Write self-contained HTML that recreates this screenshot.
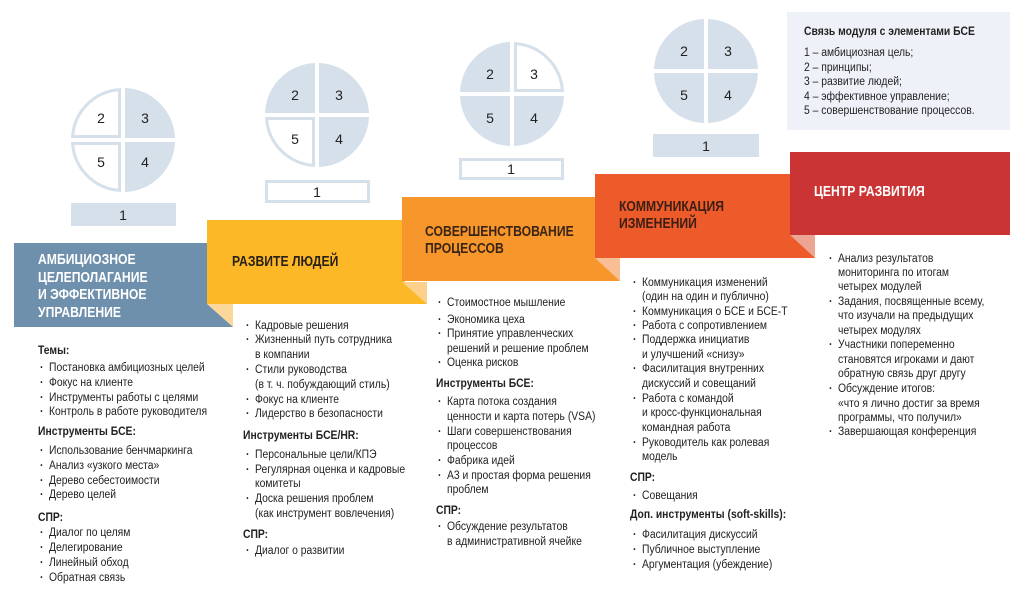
<!DOCTYPE html>
<html><head><meta charset="utf-8"><style>
html,body{margin:0;padding:0;background:#fff;}
#c{position:relative;width:1025px;height:603px;overflow:hidden;font-family:"Liberation Sans Narrow","Liberation Sans",sans-serif;color:#222;}
svg{position:absolute;left:0;top:0;}
.t{position:absolute;font-size:11.5px;line-height:14px;white-space:nowrap;transform:scaleX(0.9);transform-origin:0 0;}
.h{font-weight:bold;}
.b::before{content:"·";position:absolute;margin-left:-10px;font-weight:bold;}
.bn{position:absolute;font-weight:bold;font-size:14.5px;line-height:17px;white-space:nowrap;transform:scaleX(0.84);transform-origin:0 0;}
</style></head><body><div id="c">
<svg width="1025" height="603" viewBox="0 0 1025 603">
<rect x="787" y="12" width="223" height="118" fill="#eef2f8"/>
<g fill="#d6e0ea" stroke="#d6e0ea" stroke-width="3">
<g transform="translate(123,140)">
<path d="M-3.5,-3.5V-50.4A50.5,50.5 0 0 0 -50.4,-3.5Z" fill="#fff"/>
<path d="M2,-2H52A52,52 0 0 0 2,-52Z" stroke="none"/>
<path d="M2,2V52A52,52 0 0 0 52,2Z" stroke="none"/>
<path d="M-3.5,3.5H-50.4A50.5,50.5 0 0 0 -3.5,50.4Z" fill="#fff"/>
</g>
<g transform="translate(317,115)">
<path d="M-2,-2V-52A52,52 0 0 0 -52,-2Z" stroke="none"/>
<path d="M2,-2H52A52,52 0 0 0 2,-52Z" stroke="none"/>
<path d="M2,2V52A52,52 0 0 0 52,2Z" stroke="none"/>
<path d="M-3.5,3.5H-50.4A50.5,50.5 0 0 0 -3.5,50.4Z" fill="#fff"/>
</g>
<g transform="translate(512,94)">
<path d="M-2,-2V-52A52,52 0 0 0 -52,-2Z" stroke="none"/>
<path d="M3.5,-3.5H50.4A50.5,50.5 0 0 0 3.5,-50.4Z" fill="#fff"/>
<path d="M2,2V52A52,52 0 0 0 52,2Z" stroke="none"/>
<path d="M-2,2H-52A52,52 0 0 0 -2,52Z" stroke="none"/>
</g>
<g transform="translate(706,71)">
<path d="M-2,-2V-52A52,52 0 0 0 -52,-2Z" stroke="none"/>
<path d="M2,-2H52A52,52 0 0 0 2,-52Z" stroke="none"/>
<path d="M2,2V52A52,52 0 0 0 52,2Z" stroke="none"/>
<path d="M-2,2H-52A52,52 0 0 0 -2,52Z" stroke="none"/>
</g>
<rect x="71" y="203" width="105" height="23" stroke="none"/>
<rect x="266.5" y="181.5" width="102" height="20" fill="#fff"/>
<rect x="460.5" y="159.5" width="102" height="19" fill="#fff"/>
<rect x="653" y="134" width="106" height="23" stroke="none"/>
</g>
<g font-family="Liberation Sans, sans-serif" font-size="14" fill="#222" text-anchor="middle">
<text x="101" y="123">2</text><text x="145" y="123">3</text><text x="101" y="167">5</text><text x="145" y="167">4</text>
<text x="295" y="100">2</text><text x="339" y="100">3</text><text x="295" y="144">5</text><text x="339" y="144">4</text>
<text x="490" y="79">2</text><text x="534" y="79">3</text><text x="490" y="123">5</text><text x="534" y="123">4</text>
<text x="684" y="56">2</text><text x="728" y="56">3</text><text x="684" y="100">5</text><text x="728" y="100">4</text>
<text x="123" y="220">1</text><text x="317" y="197">1</text><text x="511" y="174">1</text><text x="706" y="151">1</text>
</g>
<path d="M14,243H210V304L233,327H14Z" fill="#6f90ad"/>
<path d="M207,220H405V282L427,304H207Z" fill="#fcb827"/>
<path d="M207,304H233V327Z" fill="#fbd79a"/>
<path d="M402,197H598V258L620,281H402Z" fill="#f7962a"/>
<path d="M402,282H427V304Z" fill="#fcd08a"/>
<path d="M595,174H792V235L815,258H595Z" fill="#ee5b2b"/>
<path d="M595,258H620V281Z" fill="#f8bf95"/>
<rect x="790" y="152" width="220" height="83" fill="#cb3434"/>
<path d="M790,235H815V258Z" fill="#eba592"/>
</svg>

<div class="bn" style="left:38px;top:252px;color:#fff;line-height:17.5px">АМБИЦИОЗНОЕ<br>ЦЕЛЕПОЛАГАНИЕ<br>И ЭФФЕКТИВНОЕ<br>УПРАВЛЕНИЕ</div>
<div class="bn" style="left:232px;top:254px;color:#2b2217">РАЗВИТЕ ЛЮДЕЙ</div>
<div class="bn" style="left:425px;top:224px;color:#3a2414">СОВЕРШЕНСТВОВАНИЕ<br>ПРОЦЕССОВ</div>
<div class="bn" style="left:619px;top:199px;color:#3b1f14">КОММУНИКАЦИЯ<br>ИЗМЕНЕНИЙ</div>
<div class="bn" style="left:814px;top:184px;color:#fff">ЦЕНТР РАЗВИТИЯ</div>

<div class="t h" style="left:804px;top:25px">Связь модуля с элементами БСЕ</div>
<div class="t" style="left:804px;top:46px;line-height:14.6px">1 – амбициозная цель;<br>2 – принципы;<br>3 – развитие людей;<br>4 – эффективное управление;<br>5 – совершенствование процессов.</div>

<!-- col1 -->
<div class="t h" style="left:38px;top:344px">Темы:</div>
<div class="t b" style="left:49px;top:361px">Постановка амбициозных целей</div>
<div class="t b" style="left:49px;top:376px">Фокус на клиенте</div>
<div class="t b" style="left:49px;top:391px">Инструменты работы с целями</div>
<div class="t b" style="left:49px;top:405px">Контроль в работе руководителя</div>
<div class="t h" style="left:38px;top:425px">Инструменты БСЕ:</div>
<div class="t b" style="left:49px;top:444px">Использование бенчмаркинга</div>
<div class="t b" style="left:49px;top:459px">Анализ «узкого места»</div>
<div class="t b" style="left:49px;top:474px">Дерево себестоимости</div>
<div class="t b" style="left:49px;top:488px">Дерево целей</div>
<div class="t h" style="left:38px;top:511px">СПР:</div>
<div class="t b" style="left:49px;top:526px">Диалог по целям</div>
<div class="t b" style="left:49px;top:541px">Делегирование</div>
<div class="t b" style="left:49px;top:556px">Линейный обход</div>
<div class="t b" style="left:49px;top:571px">Обратная связь</div>

<!-- col2 -->
<div class="t b" style="left:255px;top:319px">Кадровые решения</div>
<div class="t b" style="left:255px;top:333px">Жизненный путь сотрудника</div>
<div class="t" style="left:255px;top:348px">в компании</div>
<div class="t b" style="left:255px;top:363px">Стили руководства</div>
<div class="t" style="left:255px;top:378px">(в т. ч. побуждающий стиль)</div>
<div class="t b" style="left:255px;top:393px">Фокус на клиенте</div>
<div class="t b" style="left:255px;top:407px">Лидерство в безопасности</div>
<div class="t h" style="left:243px;top:429px">Инструменты БСЕ/HR:</div>
<div class="t b" style="left:255px;top:448px">Персональные цели/КПЭ</div>
<div class="t b" style="left:255px;top:463px">Регулярная оценка и кадровые</div>
<div class="t" style="left:255px;top:477px">комитеты</div>
<div class="t b" style="left:255px;top:492px">Доска решения проблем</div>
<div class="t" style="left:255px;top:507px">(как инструмент вовлечения)</div>
<div class="t h" style="left:243px;top:528px">СПР:</div>
<div class="t b" style="left:255px;top:544px">Диалог о развитии</div>

<!-- col3 -->
<div class="t b" style="left:447px;top:296px">Стоимостное мышление</div>
<div class="t b" style="left:447px;top:313px">Экономика цеха</div>
<div class="t b" style="left:447px;top:327px">Принятие управленческих</div>
<div class="t" style="left:447px;top:342px">решений и решение проблем</div>
<div class="t b" style="left:447px;top:356px">Оценка рисков</div>
<div class="t h" style="left:436px;top:377px">Инструменты БСЕ:</div>
<div class="t b" style="left:447px;top:395px">Карта потока создания</div>
<div class="t" style="left:447px;top:410px">ценности и карта потерь (VSA)</div>
<div class="t b" style="left:447px;top:425px">Шаги совершенствования</div>
<div class="t" style="left:447px;top:439px">процессов</div>
<div class="t b" style="left:447px;top:454px">Фабрика идей</div>
<div class="t b" style="left:447px;top:469px">А3 и простая форма решения</div>
<div class="t" style="left:447px;top:483px">проблем</div>
<div class="t h" style="left:436px;top:504px">СПР:</div>
<div class="t b" style="left:447px;top:520px">Обсуждение результатов</div>
<div class="t" style="left:447px;top:535px">в административной ячейке</div>

<!-- col4 -->
<div class="t b" style="left:642px;top:276px">Коммуникация изменений</div>
<div class="t" style="left:642px;top:290px">(один на один и публично)</div>
<div class="t b" style="left:642px;top:305px">Коммуникация о БСЕ и БСЕ-Т</div>
<div class="t b" style="left:642px;top:319px">Работа с сопротивлением</div>
<div class="t b" style="left:642px;top:333px">Поддержка инициатив</div>
<div class="t" style="left:642px;top:348px">и улучшений «снизу»</div>
<div class="t b" style="left:642px;top:362px">Фасилитация внутренних</div>
<div class="t" style="left:642px;top:377px">дискуссий и совещаний</div>
<div class="t b" style="left:642px;top:392px">Работа с командой</div>
<div class="t" style="left:642px;top:406px">и кросс-функциональная</div>
<div class="t" style="left:642px;top:421px">командная работа</div>
<div class="t b" style="left:642px;top:436px">Руководитель как ролевая</div>
<div class="t" style="left:642px;top:450px">модель</div>
<div class="t h" style="left:630px;top:471px">СПР:</div>
<div class="t b" style="left:642px;top:489px">Совещания</div>
<div class="t h" style="left:630px;top:508px">Доп. инструменты (soft-skills):</div>
<div class="t b" style="left:642px;top:528px">Фасилитация дискуссий</div>
<div class="t b" style="left:642px;top:543px">Публичное выступление</div>
<div class="t b" style="left:642px;top:558px">Аргументация (убеждение)</div>

<!-- col5 -->
<div class="t b" style="left:838px;top:252px">Анализ результатов</div>
<div class="t" style="left:838px;top:266px">мониторинга по итогам</div>
<div class="t" style="left:838px;top:280px">четырех модулей</div>
<div class="t b" style="left:838px;top:295px">Задания, посвященные всему,</div>
<div class="t" style="left:838px;top:309px">что изучали на предыдущих</div>
<div class="t" style="left:838px;top:324px">четырех модулях</div>
<div class="t b" style="left:838px;top:338px">Участники попеременно</div>
<div class="t" style="left:838px;top:353px">становятся игроками и дают</div>
<div class="t" style="left:838px;top:367px">обратную связь друг другу</div>
<div class="t b" style="left:838px;top:382px">Обсуждение итогов:</div>
<div class="t" style="left:838px;top:397px">«что я лично достиг за время</div>
<div class="t" style="left:838px;top:411px">программы, что получил»</div>
<div class="t b" style="left:838px;top:425px">Завершающая конференция</div>
</div></body></html>
